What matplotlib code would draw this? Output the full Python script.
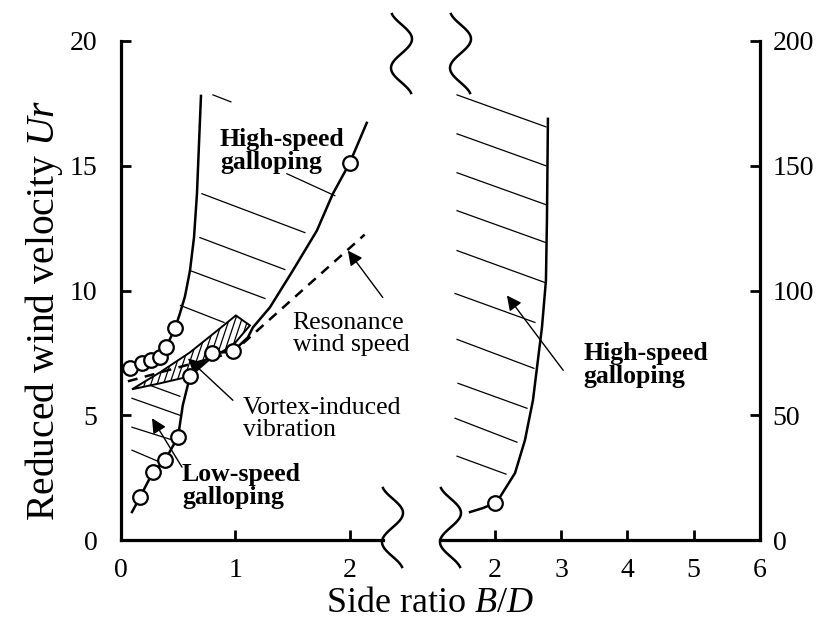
import numpy as np
import matplotlib.pyplot as plt
from matplotlib.patches import Polygon
from matplotlib.lines import Line2D

plt.rcParams['font.family'] = ['Liberation Serif', 'DejaVu Serif']
plt.rcParams['mathtext.fontset'] = 'custom'
plt.rcParams['mathtext.rm'] = 'Liberation Serif'
plt.rcParams['mathtext.it'] = 'Liberation Serif:italic'

# ---------------- data (left panel: B/D 0-2.3, Ur 0-20) ----------------
left_xticks = [0, 1, 2]
left_yticks = [0, 5, 10, 15, 20]
right_xticks = [2, 3, 4, 5, 6]
right_yticks = [0, 50, 100, 150, 200]

# high-speed galloping left boundary (onset of galloping for small B/D)
hs_left_x = [0.079, 0.183, 0.262, 0.341, 0.393, 0.472, 0.515, 0.559, 0.603, 0.638, 0.664, 0.681, 0.699]
hs_left_y = [6.88, 7.08, 7.20, 7.32, 7.72, 8.48, 9.08, 9.76, 10.80, 12.12, 13.88, 15.80, 17.8]
hs_left_mark_x = [0.079, 0.183, 0.262, 0.341, 0.393, 0.472]
hs_left_mark_y = [6.88, 7.08, 7.20, 7.32, 7.72, 8.48]

# galloping onset curve (low-speed -> high-speed)
onset_x = [0.096, 0.166, 0.279, 0.384, 0.498, 0.540, 0.603, 0.795, 0.978, 1.109, 1.153,
           1.301, 1.502, 1.712, 1.852, 2.000, 2.148]
onset_y = [1.12, 1.72, 2.72, 3.20, 4.12, 5.40, 6.56, 7.48, 7.56, 8.12, 8.52,
           9.32, 10.80, 12.40, 13.88, 15.12, 16.72]
onset_mark_x = [0.166, 0.279, 0.384, 0.498, 0.603, 0.795, 0.978, 2.000]
onset_mark_y = [1.72, 2.72, 3.20, 4.12, 6.56, 7.48, 7.56, 15.12]

# resonance wind speed (dashed)
res_x = [0.06, 0.978, 2.13]
res_y = [6.36, 7.52, 12.24]

# vortex-induced vibration region outline
viv_x = [0.096, 0.341, 0.603, 0.821, 1.004, 1.127, 0.978, 0.795, 0.603, 0.341]
viv_y = [6.04, 6.72, 7.52, 8.32, 9.00, 8.60, 7.80, 7.32, 6.56, 6.28]

# hatch strokes of galloping regions (left panel)
hs_hatch_x0 = [0.804, 1.450, 0.707, 0.690, 0.603, 0.520]
hs_hatch_y0 = [17.84, 14.68, 13.88, 12.12, 10.80, 9.40]
hs_hatch_x1 = [0.961, 1.869, 1.607, 1.432, 1.258, 0.900]
hs_hatch_y1 = [17.56, 13.80, 12.32, 10.84, 9.68, 8.72]
ls_hatch_x0 = [0.253, 0.096, 0.096, 0.096]
ls_hatch_y0 = [6.20, 5.68, 4.52, 3.60]
ls_hatch_x1 = [0.515, 0.515, 0.454, 0.341]
ls_hatch_y1 = [5.76, 5.00, 4.00, 3.12]

# ---------------- data (right panel: B/D 1.2-6, Ur 0-200) ----------------
hsR_x = [1.623, 1.819, 2.000, 2.075, 2.302, 2.452, 2.573, 2.679, 2.709, 2.769, 2.784, 2.799]
hsR_y = [11.2, 12.8, 14.8, 17.2, 26.8, 40.0, 56.0, 78.8, 85.2, 104.0, 128.0, 168.8]
hsR_mark_x = [2.0]
hsR_mark_y = [14.8]
R_hatch_x0 = [1.427, 1.427, 1.427, 1.427, 1.427, 1.397, 1.427, 1.442, 1.397, 1.427]
R_hatch_y0 = [178.4, 162.8, 147.2, 132.0, 116.0, 98.8, 80.4, 62.8, 48.8, 33.6]
R_hatch_x1 = [2.769, 2.769, 2.769, 2.769, 2.754, 2.603, 2.588, 2.483, 2.332, 2.166]
R_hatch_y1 = [165.6, 150.0, 134.4, 119.2, 103.2, 87.2, 68.8, 52.8, 39.2, 26.4]

# ---------------- figure ----------------
W, H = 822, 624
fig = plt.figure(figsize=(W / 100, H / 100), dpi=100)
axL = fig.add_axes([121 / W, (H - 540) / H, (383 - 121) / W, 499 / H])
axR = fig.add_axes([440 / W, (H - 540) / H, (760 - 440) / W, 499 / H])
axL.set_xlim(0, 2.29)
axL.set_ylim(0, 20)
axR.set_xlim(1.17, 6)
axR.set_ylim(0, 200)

for ax in (axL, axR):
    ax.patch.set_alpha(0)
    ax.spines['top'].set_visible(False)
    for s in ax.spines.values():
        s.set_linewidth(2.3)
    ax.tick_params(direction='in', length=7, width=2, labelsize=20)
    ax.tick_params(axis='x', pad=13)
axL.spines['right'].set_visible(False)
axR.spines['left'].set_visible(False)
axR.yaxis.tick_right()
axR.tick_params(axis='y', pad=9)
axL.tick_params(axis='y', pad=17)
axL.set_xticks(left_xticks)
axL.set_yticks(left_yticks)
axR.set_xticks(right_xticks)
axR.set_yticks(right_yticks)

lw_main = 1.8
mk = dict(marker='o', ms=10.5, mfc='white', mec='k', mew=1.6, ls='none', zorder=5)

# left panel curves
axL.plot(hs_left_x, hs_left_y, color='k', lw=lw_main)
axL.plot(hs_left_mark_x, hs_left_mark_y, **mk)
axL.plot(onset_x, onset_y, color='k', lw=lw_main)
axL.plot(onset_mark_x, onset_mark_y, **mk)
axL.plot(res_x, res_y, color='k', lw=1.8, ls=(0, (4, 3)))

for x0, y0, x1, y1 in zip(hs_hatch_x0, hs_hatch_y0, hs_hatch_x1, hs_hatch_y1):
    axL.plot([x0, x1], [y0, y1], color='k', lw=0.9)
for x0, y0, x1, y1 in zip(ls_hatch_x0, ls_hatch_y0, ls_hatch_x1, ls_hatch_y1):
    axL.plot([x0, x1], [y0, y1], color='k', lw=0.9)

# vortex-induced vibration region with steep hatch
poly = Polygon(np.column_stack([viv_x, viv_y]), closed=True, fill=False,
               edgecolor='k', lw=1.4, zorder=3)
axL.add_patch(poly)
for xs in np.arange(-0.6, 1.3, 0.055):
    ln, = axL.plot([xs, xs + 0.5], [5.0, 5.0 + 0.5 * 13.7], color='k', lw=0.9, zorder=3)
    ln.set_clip_path(poly)

# right panel
axR.plot(hsR_x, hsR_y, color='k', lw=lw_main)
axR.plot(hsR_mark_x, hsR_mark_y, **mk)
for x0, y0, x1, y1 in zip(R_hatch_x0, R_hatch_y0, R_hatch_x1, R_hatch_y1):
    axR.plot([x0, x1], [y0, y1], color='k', lw=0.9)

# annotations
fs_ann = 18.5
ap = dict(arrowstyle='-|>', color='k', lw=1.0, mutation_scale=22, shrinkA=0, shrinkB=0)
axL.text(0.865, 15.6, 'High-speed\ngalloping', fontsize=fs_ann, fontweight='bold',
         va='center', ha='left', linespacing=1.0)
axL.text(1.50, 8.24, 'Resonance\nwind speed', fontsize=fs_ann, va='center', ha='left',
         linespacing=1.0)
axL.annotate('', xy=(1.983, 11.6), xytext=(2.288, 9.72), arrowprops=ap)
axL.text(1.065, 4.84, 'Vortex-induced\nvibration', fontsize=fs_ann, va='center', ha='left',
         linespacing=1.0)
axL.annotate('', xy=(0.585, 7.28), xytext=(0.978, 5.6), arrowprops=ap)
axL.text(0.533, 2.16, 'Low-speed\ngalloping', fontsize=fs_ann, fontweight='bold',
         va='center', ha='left', linespacing=1.0)
axL.annotate('', xy=(0.271, 4.88), xytext=(0.533, 2.92), arrowprops=ap)
axR.text(3.33, 70, 'High-speed\ngalloping', fontsize=fs_ann, fontweight='bold',
         va='center', ha='left', linespacing=1.0)
axR.annotate('', xy=(2.18, 98), xytext=(3.03, 68), arrowprops=ap)

# axis labels
fig.text(430 / W, 1 - 603 / H, 'Side ratio $B$/$D$', fontsize=26, ha='center', va='center')
fig.text(44 / W, 1 - 310 / H, 'Reduced wind velocity $Ur$', fontsize=28.5, ha='center',
         va='center', rotation=90)

# axis break marks
def squiggle(px, py):
    dy = np.linspace(-51, 28, 80)
    x = px + 9.5 + 10.5 * np.cos(np.pi / 29 * (dy + 26))
    y = py + dy
    fig.add_artist(Line2D(x / W, 1 - y / H, transform=fig.transFigure, color='k', lw=1.8))

for px, py in [(383, 539), (441, 539), (392, 65), (451, 65)]:
    squiggle(px, py)

fig.savefig('out.png', dpi=100)
